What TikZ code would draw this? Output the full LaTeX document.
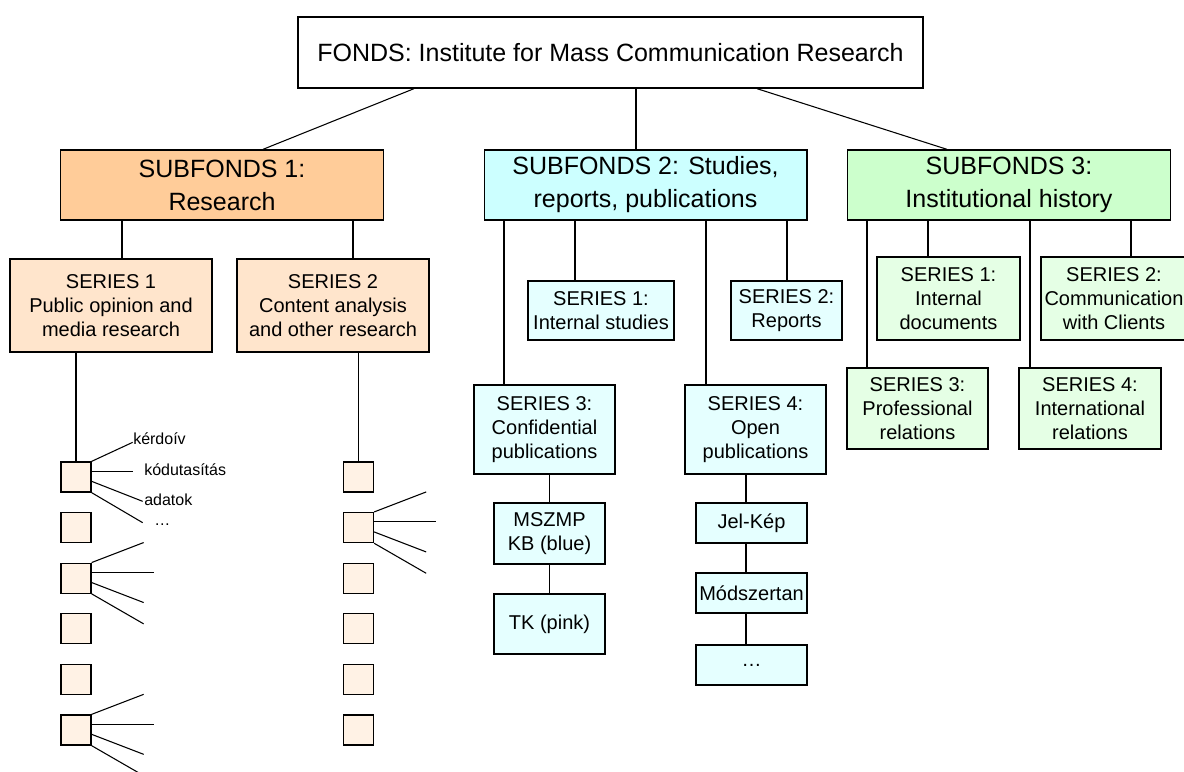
\documentclass[tikz,border=0pt]{standalone}
\usepackage{fontspec}
\setmainfont{Liberation Sans}
\definecolor{subone}{HTML}{FFCC99}
\definecolor{subtwo}{HTML}{CCFFFF}
\definecolor{subthree}{HTML}{CCFFCC}
\definecolor{serone}{HTML}{FFE5CC}
\definecolor{sertwo}{HTML}{E5FFFF}
\definecolor{serthree}{HTML}{E5FFE5}
\definecolor{fileone}{HTML}{FFF2E5}

\begin{document}
\begin{tikzpicture}[x=0.75pt, y=-0.75pt,
    every node/.style={inner sep=0pt, align=center},
    boxbase/.style={draw, line width=1pt, font=\fontsize{15}{18}\selectfont},
    fondsbox/.style={boxbase, font=\fontsize{18.75}{24.75}\selectfont, minimum width=468.75pt, minimum height=53.25pt},
    subbox/.style={boxbase, font=\fontsize{18.75}{24.75}\selectfont, minimum width=242pt, minimum height=52.5pt},
    resbox/.style={boxbase, fill=serone},
    pubbox/.style={boxbase, fill=sertwo},
    histbox/.style={boxbase, fill=serthree},
    filebox/.style={boxbase, fill=fileone, minimum size=22.5pt},
    leaflabel/.style={font=\fontsize{12}{14}\selectfont, anchor=base west},
    treeline/.style={line width=0.8pt}]
    \useasboundingbox (0,0) rectangle (1184,771);

    % fonds and subfonds
    \node[fondsbox] (fonds) at (610.5,52.5) {FONDS: Institute for Mass Communication Research};
    \node[subbox, fill=subone] (sf1) at (222,185) {SUBFONDS 1:\\Research};
    \node[subbox, fill=subtwo] (sf2) at (645.5,185) {SUBFONDS 2: Studies,\\reports, publications};
    \node[subbox, fill=subthree] (sf3) at (1009,185) {SUBFONDS 3:\\Institutional history};

    \draw[treeline] (fonds.south -| 414,0) -- (sf1.north -| 263,0);
    \draw[treeline] (fonds.south -| 636,0) -- (sf2.north -| 636,0);
    \draw[treeline] (fonds.south -| 757,0) -- (sf3.north -| 947,0);

    % subfonds 1
    \node[resbox, minimum width=151.5pt, minimum height=69.75pt] (s11) at (111,305.5) {SERIES 1\\Public opinion and\\media research};
    \node[resbox, minimum width=144pt, minimum height=69.75pt] (s12) at (333,305.5) {SERIES 2\\Content analysis\\and other research};

    \draw[treeline] (sf1.south -| 122,0) -- (s11.north -| 122,0);
    \draw[treeline] (sf1.south -| 353,0) -- (s12.north -| 353,0);

    \foreach \i in {1,...,6} {
      \node[filebox] (a\i) at (76,{477+(\i-1)*50.6}) {};
      \node[filebox] (b\i) at (358.5,{477+(\i-1)*50.6}) {};
    }
    \draw[treeline] (s11.south -| a1) -- (a1.north);
    \draw[treeline] (s12.south -| b1) -- (b1.north);

    \draw[treeline] (a1.north east) -- ++(41,-19);
    \draw[treeline] (a1.north east) ++(0,10) -- ++(41,0);
    \draw[treeline] (a1.north east) ++(0,20) -- ++(51,20);
    \draw[treeline] (a1.south east) -- ++(51,30);
    \node[leaflabel] (q1) at (133,444) {kérdoív};
    \node[leaflabel] (q2) at (144,475) {kódutasítás};
    \node[leaflabel] (q3) at (144,505) {adatok};
    \node[leaflabel] (q4) at (154,525) {…};

    \foreach \f in {a3,a6,b2} {
      \draw[treeline] (\f.north east) -- ++(52,-20);
      \draw[treeline] (\f.north east) ++(0,10) -- ++(62,0);
      \draw[treeline] (\f.north east) ++(0,20) -- ++(52,20);
      \draw[treeline] (\f.south east) -- ++(52,30);
    }

    % subfonds 2
    \node[pubbox, minimum width=109.5pt, minimum height=44.25pt] (s21) at (601,310.5) {SERIES 1:\\Internal studies};
    \node[pubbox, minimum width=83.25pt, minimum height=44.25pt] (s22) at (786.5,310.5) {SERIES 2:\\Reports};
    \node[pubbox, minimum width=105.75pt, minimum height=66.75pt] (s23) at (544.5,429.5) {SERIES 3:\\Confidential\\publications};
    \node[pubbox, minimum width=105.75pt, minimum height=66.75pt] (s24) at (755.5,429.5) {SERIES 4:\\Open\\publications};
    \node[pubbox, minimum width=83.25pt, minimum height=45.75pt] (kb) at (549.5,533.5) {MSZMP\\KB (blue)};
    \node[pubbox, minimum width=83.25pt, minimum height=45pt] (tk) at (549.5,624) {TK (pink)};
    \node[pubbox, minimum width=83.25pt, minimum height=30pt] (jel) at (751.5,523) {Jel-Kép};
    \node[pubbox, minimum width=83.25pt, minimum height=30pt] (mod) at (751.5,593) {Módszertan};
    \node[pubbox, minimum width=83.25pt, minimum height=30pt] (more) at (751.5,665) {…};

    \draw[treeline] (sf2.south -| 504,0) -- (s23.north -| 504,0);
    \draw[treeline] (sf2.south -| 575,0) -- (s21.north -| 575,0);
    \draw[treeline] (sf2.south -| 706,0) -- (s24.north -| 706,0);
    \draw[treeline] (sf2.south -| 787,0) -- (s22.north -| 787,0);
    \draw[treeline] (s23.south -| kb) -- (kb.north);
    \draw[treeline] (kb) -- (tk);
    \draw[treeline] (s24.south -| 746,0) -- (jel.north -| 746,0);
    \draw[treeline] (jel.south -| 746,0) -- (mod.north -| 746,0);
    \draw[treeline] (mod.south -| 746,0) -- (more.north -| 746,0);

    % subfonds 3
    \node[histbox, minimum width=107.25pt, minimum height=62.25pt] (s31) at (948.5,298.5) {SERIES 1:\\Internal\\documents};
    \node[histbox, minimum width=109.5pt, minimum height=62.25pt] (s32) at (1114,298.5) {SERIES 2:\\Communication\\with Clients};
    \node[histbox, minimum width=105.75pt, minimum height=60.75pt] (s33) at (917.5,408.5) {SERIES 3:\\Professional\\relations};
    \node[histbox, minimum width=106.5pt, minimum height=60.75pt] (s34) at (1090,408.5) {SERIES 4:\\International\\relations};

    \draw[treeline] (sf3.south -| 867,0) -- (s33.north -| 867,0);
    \draw[treeline] (sf3.south -| 928,0) -- (s31.north -| 928,0);
    \draw[treeline] (sf3.south -| 1030,0) -- (s34.north -| 1030,0);
    \draw[treeline] (sf3.south -| 1131,0) -- (s32.north -| 1131,0);
\end{tikzpicture}
\end{document}
